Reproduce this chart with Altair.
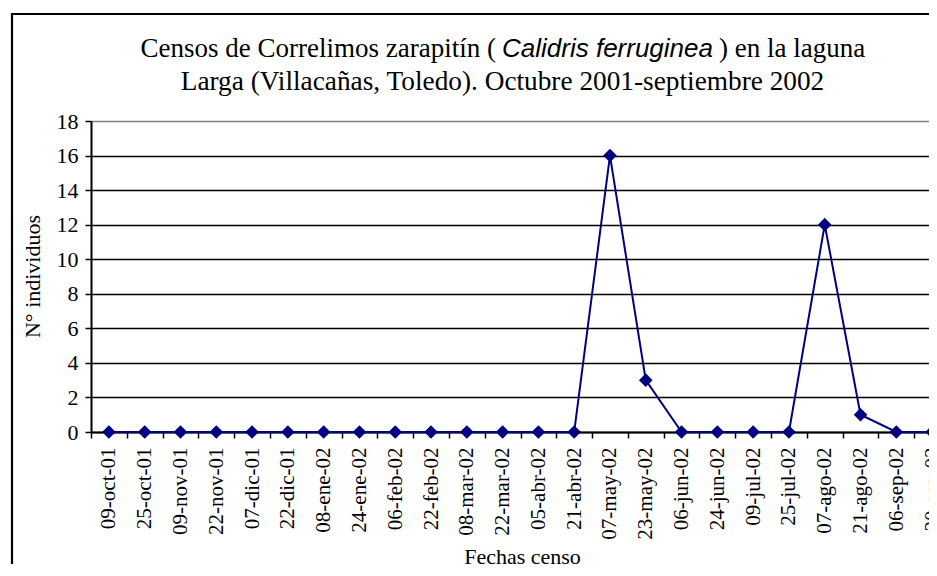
import altair as alt
import pandas as pd

dates = ["09-oct-01", "25-oct-01", "09-nov-01", "22-nov-01", "07-dic-01", "22-dic-01",
         "08-ene-02", "24-ene-02", "06-feb-02", "22-feb-02", "08-mar-02", "22-mar-02",
         "05-abr-02", "21-abr-02", "07-may-02", "23-may-02", "06-jun-02", "24-jun-02",
         "09-jul-02", "25-jul-02", "07-ago-02", "21-ago-02", "06-sep-02", "20-sep-02"]
counts = [0, 0, 0, 0, 0, 0,
          0, 0, 0, 0, 0, 0,
          0, 0, 16, 3, 0, 0,
          0, 0, 12, 1, 0, 0]
y_ticks = [0, 2, 4, 6, 8, 10, 12, 14, 16, 18]

title1_a = "Censos de Correlimos zarapitín ("
title1_b = "Calidris ferruginea"
title1_c = " ) en la laguna"
title2 = "Larga (Villacañas, Toledo). Octubre 2001-septiembre 2002"
x_title = "Fechas censo"
y_title = "N° individuos"

df = pd.DataFrame({"fecha": dates, "n": counts})
one = pd.DataFrame({"k": [0]})

SERIF = "Liberation Serif"
SANS = "Liberation Sans"
NAVY = "#000080"

x_enc = alt.X(
    "fecha:N", sort=dates,
    scale=alt.Scale(paddingInner=0, paddingOuter=0, range=[0, 859]),
    axis=alt.Axis(
        title=x_title, labelAngle=-90, labelFont=SERIF, labelFontSize=21,
        labelColor="black", labelPadding=9, labelOverlap=False, labelBound=False,
        tickBand="extent", tickSize=6, tickColor="black", tickWidth=1.5,
        domainColor="black", domainWidth=2, grid=False,
        titleFont=SERIF, titleFontSize=22, titleFontWeight="normal", titleColor="black",
        titleX=431, titleY=131, titleBaseline="alphabetic",
    ),
)
y_enc = alt.Y(
    "n:Q", scale=alt.Scale(domain=[0, 18], nice=False),
    axis=alt.Axis(
        title=y_title, values=y_ticks, labelFont=SERIF, labelFontSize=22,
        labelColor="black", labelPadding=7, labelOverlap=False,
        tickSize=6, tickColor="black", tickWidth=1.5,
        domainColor="black", domainWidth=2,
        grid=True, gridWidth=1.5,
        gridColor=alt.ExprRef("datum.value == 18 ? '#808080' : 'black'"),
        titleFont=SERIF, titleFontSize=22, titleFontWeight="normal", titleColor="black",
        titleX=-59, titleY=155, titleBaseline="middle", titleAngle=-90,
    ),
)

line = alt.Chart(df).mark_line(color=NAVY, strokeWidth=2).encode(x=x_enc, y=y_enc)
pts = alt.Chart(df).mark_point(shape="diamond", filled=True, size=185, color=NAVY, opacity=1).encode(
    x=x_enc, y=y_enc)

frame = alt.Chart(one).mark_rect(fillOpacity=0, stroke="black", strokeWidth=2.2).encode(
    x=alt.value(-79), x2=alt.value(1000), y=alt.value(-107), y2=alt.value(700))

t1a = alt.Chart(one).mark_text(text=title1_a, font=SERIF, fontSize=27, align="right",
                               baseline="alphabetic", color="black").encode(
    x=alt.value(405), y=alt.value(-64))
t1b = alt.Chart(one).mark_text(text=title1_b, font=SANS, fontSize=26, fontStyle="italic",
                               align="left", baseline="alphabetic", color="black").encode(
    x=alt.value(411), y=alt.value(-64))
t1c = alt.Chart(one).mark_text(text=title1_c, font=SERIF, fontSize=27, align="left",
                               baseline="alphabetic", color="black").encode(
    x=alt.value(628), y=alt.value(-64))
t2 = alt.Chart(one).mark_text(text=title2, font=SERIF, fontSize=27.3, align="center",
                              baseline="alphabetic", color="black").encode(
    x=alt.value(411.5), y=alt.value(-31))

chart = alt.layer(frame, line, pts, t1a, t1b, t1c, t2).properties(
    width=838, height=311,
    autosize=alt.AutoSizeParams(type="none"),
    padding={"left": 83, "top": 113, "right": 0, "bottom": 132},
    background="white",
).configure_view(stroke="transparent", strokeWidth=0)

chart.save("out.html", embed_options={"renderer": "svg", "actions": False})
